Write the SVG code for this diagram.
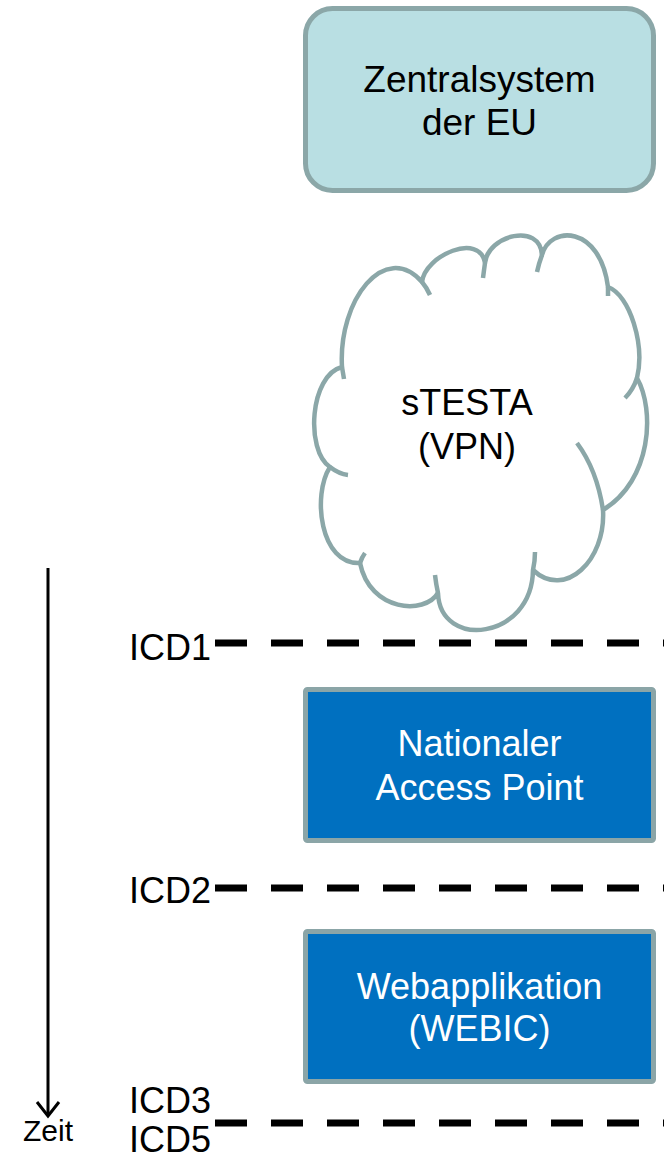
<svg xmlns="http://www.w3.org/2000/svg" width="664" height="1159" viewBox="0 0 664 1159">
<style>
text{font-family:"Liberation Sans",Arial,sans-serif;font-size:36px;fill:#000}
.c{text-anchor:middle}
.w{fill:#fff}
.box{fill:#0070C0;stroke:#8BA5A7;stroke-width:5}
.cl{fill:none;stroke:#8BA7A8;stroke-width:4.5;stroke-linecap:butt}
.dash{stroke:#000;stroke-width:7;stroke-dasharray:32 24;fill:none}
</style>
<rect width="664" height="1159" fill="#fff"/>
<g id="zentralsystem">
<rect x="305.5" y="8.5" width="348" height="182" rx="27" fill="#B9DFE3" stroke="#8BA7A8" stroke-width="5"/>
<text class="c" x="479.5" y="92" style="font-size:37px">Zentralsystem</text>
<text class="c" x="479.5" y="135" style="font-size:37px">der EU</text>
</g>
<g id="stesta">
<path d="M342,367 C338,300 385,240 422,282 C425,255 480,232 485,263 C488,235 540,222 542,255 C550,225 600,225 608,287 C630,295 645,345 637,378 C655,410 652,480 603,510 C606,560 565,600 533,570 C532,640 440,650 438,593 C425,615 370,612 360,563 C320,565 312,495 330,467 C305,450 310,375 342,367 Z" fill="#fff" stroke="#8BA7A8" stroke-width="4.5" stroke-linejoin="round"/>
<path class="cl" d="M342,367 Q343,373 344,379 M422,282 Q427,288 430,295 M485,263 Q484,270 483,278 M542,255 Q539,263 537,272 M608,287 L608,296 M637,378 Q633,390 625,398 M577,443 Q597,470 603,510 M533,570 Q535,561 535,552 M438,593 Q436,584 435,575 M360,563 Q362,557 365,553 M330,467 Q339,474 348,475"/>
<text class="c" x="467" y="415">sTESTA</text>
<text class="c" x="467" y="459">(VPN)</text>
</g>
<g id="nap">
<rect class="box" x="305.5" y="689.5" width="348" height="151" rx="2"/>
<text class="c w" x="479.5" y="756">Nationaler</text>
<text class="c w" x="479.5" y="800">Access Point</text>
</g>
<g id="webic">
<rect class="box" x="305.5" y="931.5" width="348" height="150" rx="2"/>
<text class="c w" x="479.5" y="999">Webapplikation</text>
<text class="c w" x="479.5" y="1041">(WEBIC)</text>
</g>
<g id="icd-labels">
<text x="129" y="660">ICD1</text>
<text x="129" y="903">ICD2</text>
<text x="129" y="1113">ICD3</text>
<text x="129" y="1152">ICD5</text>
</g>
<g id="connectors">
<line class="dash" x1="215" y1="643" x2="664" y2="643"/>
<line class="dash" x1="215" y1="888" x2="664" y2="888"/>
<line class="dash" x1="215" y1="1123" x2="664" y2="1123"/>
<line x1="48" y1="568" x2="48" y2="1116" stroke="#000" stroke-width="3"/>
<polyline points="37,1102 48,1116 59,1102" fill="none" stroke="#000" stroke-width="3"/>
</g>
<g id="zeit">
<text x="23" y="1141" style="font-size:30px">Zeit</text>
</g>
</svg>
